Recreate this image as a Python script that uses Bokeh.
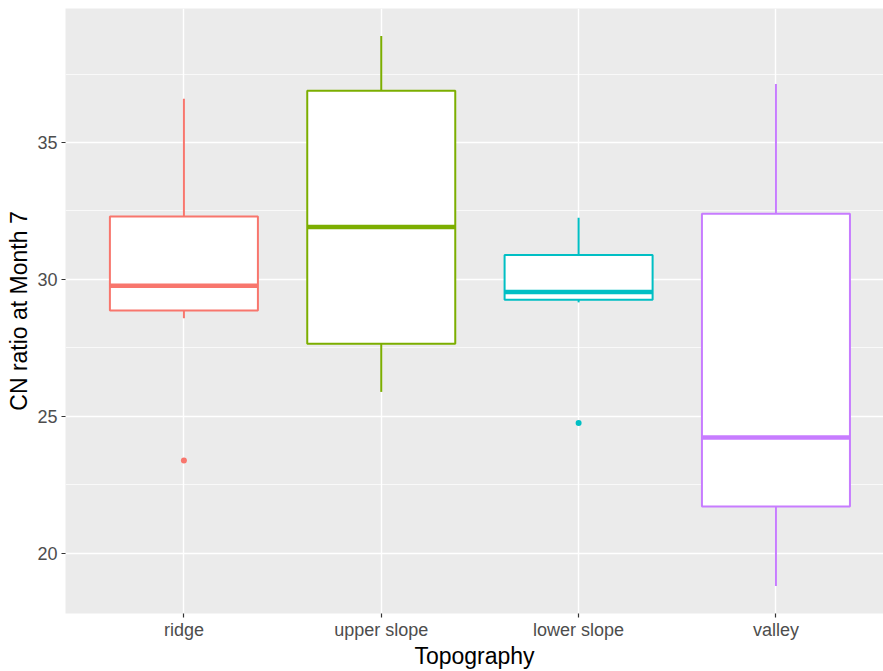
import numpy as np
from bokeh.plotting import figure
from bokeh.models import ColumnDataSource, FixedTicker
from bokeh.embed import file_html
from bokeh.resources import INLINE

categories = ["ridge", "upper slope", "lower slope", "valley"]
colors = ["#F8766D", "#7CAE00", "#00BFC4", "#C77CFF"]
lower_whisker = [28.58, 25.89, 29.16, 18.80]
q1 = [28.86, 27.65, 29.26, 21.70]
median = [29.77, 31.91, 29.54, 24.22]
q3 = [32.30, 36.89, 30.89, 32.40]
upper_whisker = [36.60, 38.89, 32.25, 37.14]
outlier_cat = [1, 3]
outlier_val = [23.38, 24.75]
outlier_colors = ["#F8766D", "#00BFC4"]
y_ticks = [20, 25, 30, 35]

box_w = 0.75
xs = np.arange(1, len(categories) + 1, dtype=float)

src = ColumnDataSource(dict(
    x=xs, x0=xs - box_w / 2, x1=xs + box_w / 2,
    lo=lower_whisker, q1=q1, med=median, q3=q3, hi=upper_whisker, color=colors,
))

ymin, ymax = min(lower_whisker), max(upper_whisker)
pad = 0.05 * (ymax - ymin)

p = figure(width=883, height=671, output_backend="svg", toolbar_location=None,
           x_range=(0.4, 4.545), y_range=(ymin - pad, ymax + pad),
           min_border_left=65, min_border_right=0, min_border_top=8, min_border_bottom=54)

p.background_fill_color = "#EBEBEB"
p.border_fill_color = "white"
p.outline_line_color = None

# grids
p.xgrid.grid_line_color = "white"
p.xgrid.grid_line_width = 1.4
p.ygrid.grid_line_color = "white"
p.ygrid.grid_line_width = 1.4
p.ygrid.minor_grid_line_color = "white"
p.ygrid.minor_grid_line_width = 0.7

p.xaxis.ticker = FixedTicker(ticks=list(xs))
p.xaxis.major_label_overrides = {float(x): c for x, c in zip(xs, categories)}
p.xaxis.major_label_overrides.update({int(x): c for x, c in zip(xs, categories)})
minor = [(a + b) / 2 for a, b in zip(y_ticks[:-1], y_ticks[1:])] + [y_ticks[-1] + 2.5]
p.yaxis.ticker = FixedTicker(ticks=y_ticks, minor_ticks=minor)

for ax in (p.xaxis[0], p.yaxis[0]):
    ax.axis_line_color = None
    ax.major_tick_line_color = "#333333"
    ax.major_tick_line_width = 1.2
    ax.major_tick_out = 4
    ax.major_tick_in = 0
    ax.minor_tick_line_color = None
    ax.major_label_text_font = "Liberation Sans"
    ax.major_label_text_font_size = "18px"
    ax.major_label_text_color = "#4D4D4D"
    ax.axis_label_text_font = "Liberation Sans"
    ax.axis_label_text_font_size = "23px"
    ax.axis_label_text_font_style = "normal"
    ax.axis_label_text_color = "black"

p.xaxis.axis_label = "Topography"
p.yaxis.axis_label = "CN ratio at Month 7"
p.xaxis.major_label_standoff = 2
p.xaxis.axis_label_standoff = 0
p.yaxis.major_label_standoff = 4
p.yaxis.axis_label_standoff = 2

# whiskers
p.segment(x0="x", x1="x", y0="q3", y1="hi", source=src, line_color="color", line_width=2)
p.segment(x0="x", x1="x", y0="lo", y1="q1", source=src, line_color="color", line_width=2)
# boxes
p.vbar(x="x", width=box_w, bottom="q1", top="q3", source=src,
       fill_color="white", line_color="color", line_width=2)
# medians
p.segment(x0="x0", x1="x1", y0="med", y1="med", source=src, line_color="color", line_width=4.5)
# outliers
p.scatter(x=outlier_cat, y=outlier_val, color=outlier_colors, size=6, line_width=0)

open("out.html", "w").write(file_html(p, INLINE))
